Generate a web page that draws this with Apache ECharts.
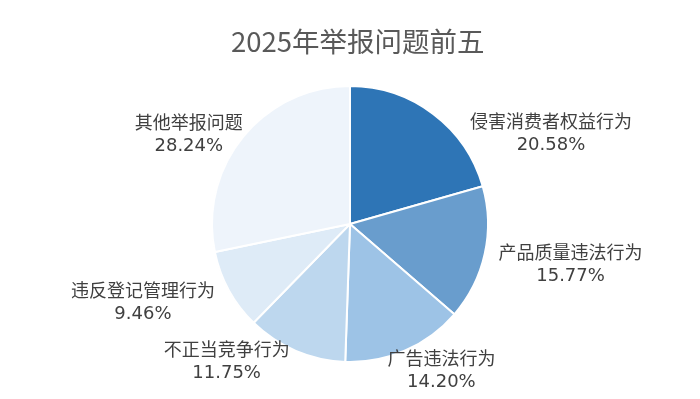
<!DOCTYPE html>
<html>
<head>
<meta charset="utf-8">
<script src="https://cdn.jsdelivr.net/npm/echarts@6/dist/echarts.min.js"></script>
<style>
    html, body { margin: 0; padding: 0; background: #fff; }
    #chart1 { width: 700px; height: 399px; }
</style>
</head>
<body>
<div id="chart1"></div>
<script>
// 举报问题类别与占比(%)
var categories = ['侵害消费者权益行为', '产品质量违法行为', '广告违法行为', '不正当竞争行为', '违反登记管理行为', '其他举报问题'];
var shares = [20.58, 15.77, 14.20, 11.75, 9.46, 28.24];

var colors = ['#2e75b6', '#699dcd', '#9dc3e6', '#bdd7ee', '#deebf7', '#eef4fb'];
// 标签微调 [dx, dy]
var labelNudge = [[32, 15], [6, -2], [-21, 2], [-3, -8], [-7, -3], [6, -8]];

var cx = 350, cy = 224, r = 138;

var myChart = echarts.init(document.getElementById('chart1'));

var total = shares.reduce(function (a, b) { return a + b; }, 0);
var midAngle = [];
var acc = 0;
for (var i = 0; i < shares.length; i++) {
    midAngle.push((acc + shares[i] / 2) / total * Math.PI * 2);
    acc += shares[i];
}

var pieData = [];
for (var i = 0; i < categories.length; i++) {
    pieData.push({ name: categories[i], value: shares[i], itemStyle: { color: colors[i] } });
}

var option = {
    animation: false,
    backgroundColor: '#fff',
    title: {
        text: '2025年举报问题前五',
        left: 226,
        top: 23,
        textStyle: {
            fontSize: 27.5,
            fontWeight: 'normal',
            color: '#595959',
            fontFamily: '"Noto Sans CJK SC", "Noto Sans", sans-serif'
        }
    },
    series: [{
        type: 'pie',
        center: [cx, cy],
        radius: r,
        startAngle: 90,
        clockwise: true,
        data: pieData,
        itemStyle: {
            borderColor: '#fff',
            borderWidth: 2
        },
        label: {
            show: true,
            position: 'outside',
            fontSize: 18,
            lineHeight: 22,
            color: '#404040',
            fontFamily: '"DejaVu Sans", "Noto Sans CJK SC", sans-serif',
            formatter: function (p) {
                return p.name + '\n' + p.value.toFixed(2) + '%';
            }
        },
        labelLine: { show: false },
        labelLayout: function (params) {
            var i = params.dataIndex;
            var a = midAngle[i];
            var dx = Math.sin(a), dy = -Math.cos(a);
            var ax = cx + (r + 8) * dx;
            var ay = cy + (r + 8) * dy;
            var hw = params.labelRect.width / 2;
            return {
                x: ax + (dx >= 0 ? hw : -hw) + labelNudge[i][0],
                y: ay + 12 + labelNudge[i][1],
                align: 'center',
                verticalAlign: 'middle'
            };
        }
    }]
};

myChart.setOption(option);
</script>
</body>
</html>
